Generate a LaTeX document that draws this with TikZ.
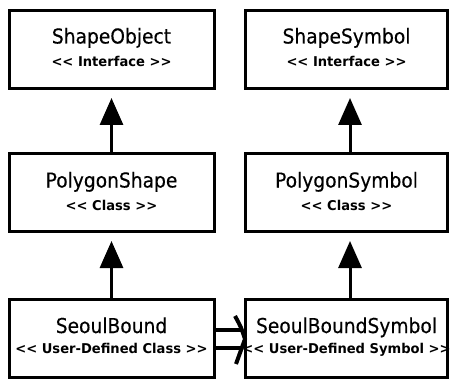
\documentclass[tikz,border=0pt]{standalone}
\usepackage{fontspec}
\usetikzlibrary{arrows.meta,calc}
\newfontfamily\titlefont[FakeStretch=0.91,FakeBold=0.3]{DejaVu Sans}
\newfontfamily\subfont[FakeStretch=0.97]{DejaVu Sans}
\tikzset{
  classbox/.style={draw=black, line width=3pt, fill=white, minimum height=78pt, inner sep=0pt},
  leftcol/.style={classbox, minimum width=205pt},
  rightcol/.style={classbox, minimum width=202pt},
  titletext/.style={anchor=base, inner sep=0pt, font=\titlefont\fontsize{20.5}{23}\selectfont},
  subtext/.style={anchor=base, inner sep=0pt, font=\subfont\bfseries\fontsize{13.5}{16}\selectfont},
  inherit/.style={line width=3pt, -{Triangle[length=27pt,width=23pt]}, shorten >=8pt},
  realize/.style={line width=3.6pt, line cap=butt},
  barb/.style={line width=4pt, line cap=butt, line join=miter, miter limit=20}
}
\begin{document}
\begin{tikzpicture}[x=1pt, y=-1pt]
  \useasboundingbox[fill=white] (0,0) rectangle (452,382);

  % interface row
  \node[leftcol]  (b1) at (111.5, 49.5) {};
  \node[rightcol] (b2) at (346.5, 49.5) {};
  % class row
  \node[leftcol]  (b3) at (111.5, 192.5) {};
  \node[rightcol] (b4) at (346.5, 192.5) {};
  % user-defined row
  \node[leftcol]  (b5) at (111.5, 338) {};
  \node[rightcol] (b6) at (346.5, 338) {};

  % labels: name on the upper line, stereotype below
  \node[titletext] (t1) at ([yshift=6pt]b1.center) {ShapeObject};
  \node[subtext]   (s1) at ([yshift=-17pt]b1.center) {<< Interface >>};
  \node[titletext] (t2) at ([yshift=6pt]b2.center) {ShapeSymbol};
  \node[subtext]   (s2) at ([yshift=-17pt]b2.center) {<< Interface >>};
  \node[titletext] (t3) at ([yshift=5pt]b3.center) {PolygonShape};
  \node[subtext]   (s3) at ([yshift=-18pt]b3.center) {<< Class >>};
  \node[titletext] (t4) at ([yshift=5pt]b4.center) {PolygonSymbol};
  \node[subtext]   (s4) at ([yshift=-18pt]b4.center) {<< Class >>};
  \node[titletext] (t5) at ([yshift=5pt]b5.center) {SeoulBound};
  \node[subtext]   (s5) at ([yshift=-15pt]b5.center) {<< User-Defined Class >>};
  \node[titletext] (t6) at ([yshift=5pt]b6.center) {SeoulBoundSymbol};
  \node[subtext]   (s6) at ([yshift=-15pt]b6.center) {<< User-Defined Symbol >>};

  % generalisation arrows
  \draw[inherit] (b3.north) -- (b1.south);
  \draw[inherit] (b5.north) -- (b3.south);
  \draw[inherit] ([xshift=3.5pt]b4.north) -- ([xshift=3.5pt]b2.south);
  \draw[inherit] ([xshift=3.5pt]b6.north) -- ([xshift=3.5pt]b4.south);

  % realisation link between the user-defined pair: double shaft, open head
  \coordinate (rtip) at ([xshift=1pt,yshift=-1pt]b6.west);
  \draw[realize] ([yshift=8pt]b5.east) -- ([yshift=8pt,xshift=-1pt]b6.west);
  \draw[realize] ([yshift=-10pt]b5.east) -- ([yshift=-10pt,xshift=-1pt]b6.west);
  \draw[barb]
    ($(rtip)+(-10,-23)$) .. controls ($(rtip)+(-4,-12)$) .. (rtip)
    .. controls ($(rtip)+(-4,12)$) .. ($(rtip)+(-9,25)$);
\end{tikzpicture}
\end{document}
